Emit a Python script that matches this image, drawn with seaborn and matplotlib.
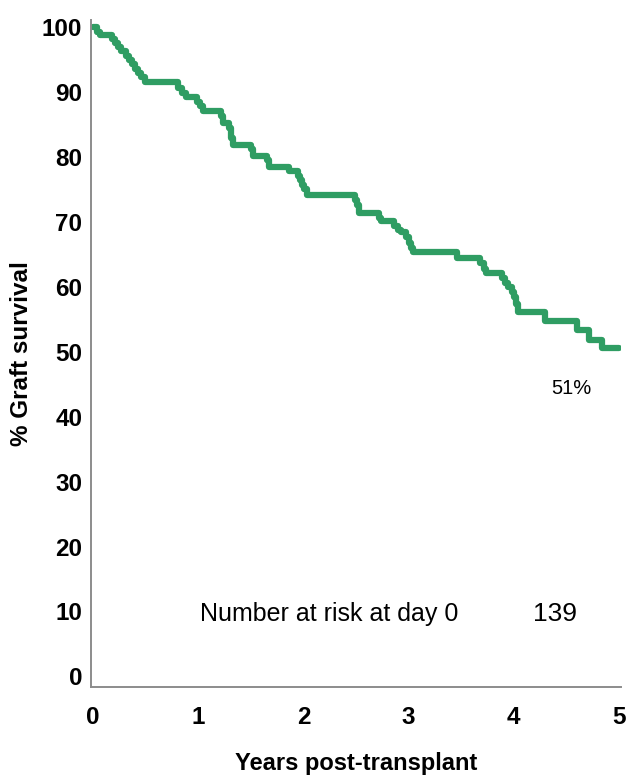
import matplotlib
matplotlib.use("Agg")
import matplotlib.pyplot as plt
import seaborn as sns
import pandas as pd

# Kaplan-Meier style graft survival (step times in years, survival in %)
times = [0.00, 0.04, 0.07, 0.18, 0.21, 0.24, 0.27, 0.31, 0.34, 0.37, 0.40, 0.43,
         0.46, 0.49, 0.81, 0.85, 0.88, 0.99, 1.02, 1.05, 1.22, 1.24, 1.29, 1.31,
         1.33, 1.50, 1.52, 1.65, 1.67, 1.86, 1.95, 1.97, 1.99, 2.01, 2.03, 2.49,
         2.51, 2.53, 2.72, 2.74, 2.86, 2.90, 2.93, 2.98, 3.00, 3.02, 3.04, 3.46,
         3.68, 3.72, 3.74, 3.89, 3.92, 3.95, 3.98, 4.00, 4.02, 4.04, 4.30, 4.60,
         4.72, 4.84, 5.00]
survival = [100.0, 99.2, 98.8, 98.2, 97.6, 96.9, 96.3, 95.6, 95.0, 94.3, 93.6, 93.0,
            92.3, 91.5, 90.6, 89.9, 89.2, 88.5, 87.8, 87.1, 86.3, 85.2, 84.4, 83.0,
            81.9, 81.2, 80.2, 79.5, 78.5, 77.8, 77.1, 76.4, 75.7, 75.0, 74.2, 73.4,
            72.6, 71.3, 70.6, 70.1, 69.4, 68.7, 68.4, 67.6, 66.8, 66.0, 65.4, 64.4,
            63.6, 62.8, 62.1, 61.3, 60.6, 59.9, 59.2, 58.4, 57.4, 56.2, 54.7, 53.4,
            51.8, 50.6, 50.6]

x_ticks = [0, 1, 2, 3, 4, 5]
y_ticks = [0, 10, 20, 30, 40, 50, 60, 70, 80, 90, 100]
final_label = "51%"
risk_label = "Number at risk at day 0"
risk_value = "139"

sns.set_theme(style="white")
plt.rcParams['font.family'] = ['Liberation Sans', 'DejaVu Sans']
plt.rcParams['text.color'] = 'black'
plt.rcParams['axes.labelcolor'] = 'black'
plt.rcParams['xtick.color'] = 'black'
plt.rcParams['ytick.color'] = 'black'

df = pd.DataFrame({"years": times, "survival": survival})

fig = plt.figure(figsize=(6.26, 7.81), dpi=100)
ax = fig.add_axes([0.1446, 0.1204, 0.8474, 0.854])

sns.lineplot(data=df, x="years", y="survival", ax=ax, color="#2F9D63",
             linewidth=4.5, drawstyle="steps-post", estimator=None, sort=True)

ax.set_xlim(-0.024, 5.02)
ax.set_ylim(-1.63, 101.1)
ax.set_xticks(x_ticks)
ax.set_yticks(y_ticks)
ax.set_xticklabels([str(t) for t in x_ticks], fontsize=17.5, fontweight="bold")
ax.set_yticklabels([str(t) for t in y_ticks], fontsize=17.5, fontweight="bold")

for s in ["top", "right"]:
    ax.spines[s].set_visible(False)
for s in ["left", "bottom"]:
    ax.spines[s].set_color("#8c8c8c")
    ax.spines[s].set_linewidth(1.4)
ax.tick_params(axis="both", direction="out", length=4, width=1.2, color="#8c8c8c",
               labelcolor="black")
ax.tick_params(axis="x", pad=10)
ax.tick_params(axis="y", pad=2)

ax.set_xlabel("Years post-transplant", fontsize=17, fontweight="bold", labelpad=16,
              color="black")
ax.set_ylabel("% Graft survival", fontsize=17.5, fontweight="bold", labelpad=6,
              color="black")

ax.text(4.55, 44.4, final_label, fontsize=14.5, ha="center", va="center", color="black")
ax.text(1.02, 9.6, risk_label, fontsize=18, ha="left", va="center", color="black")
ax.text(4.39, 9.6, risk_value, fontsize=19, ha="center", va="center", color="black")

fig.savefig("out.png", dpi=100)
